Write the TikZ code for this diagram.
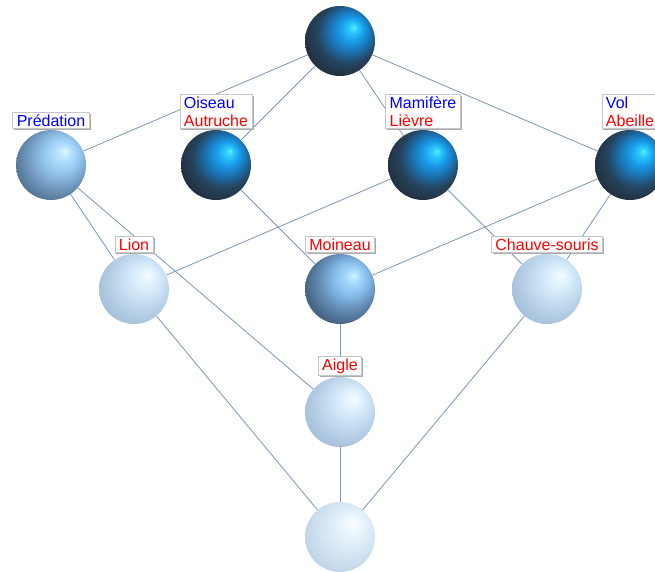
\documentclass[tikz,border=0pt]{standalone}
\usepackage{fontspec}
\setmainfont{Liberation Sans}
\usetikzlibrary{shadows,backgrounds}

\definecolor{edgeblue}{RGB}{122,150,186}
% dark spheres (concepts with an object)
\definecolor{dk0}{HTML}{5AF0FF}
\definecolor{dk1}{HTML}{2CCAFF}
\definecolor{dk2}{HTML}{1898E6}
\definecolor{dk3}{HTML}{1C6AA4}
\definecolor{dk4}{HTML}{25445E}
\definecolor{dk5}{HTML}{223040}
\definecolor{dk6}{HTML}{1A2530}
% light blue spheres
\definecolor{lb0}{HTML}{E0F8FF}
\definecolor{lb1}{HTML}{B4E2FF}
\definecolor{lb2}{HTML}{94C6EE}
\definecolor{lb3}{HTML}{7AA4CC}
\definecolor{lb4}{HTML}{5C7E9E}
\definecolor{lb5}{HTML}{4C6882}
\definecolor{md0}{HTML}{D0F4FF}
\definecolor{md1}{HTML}{A4DAFF}
\definecolor{md2}{HTML}{82B8E6}
\definecolor{md3}{HTML}{6690BA}
\definecolor{md4}{HTML}{4A6A8C}
\definecolor{md5}{HTML}{3A5470}
% very light spheres
\definecolor{vl0}{HTML}{F4FCFF}
\definecolor{vl1}{HTML}{E0F2FD}
\definecolor{vl2}{HTML}{C8E0F4}
\definecolor{vl3}{HTML}{B0CAE2}
\definecolor{vl4}{HTML}{9CB6D2}
\definecolor{bt0}{HTML}{FAFEFF}
\definecolor{bt1}{HTML}{EAF5FC}
\definecolor{bt2}{HTML}{D8E8F5}
\definecolor{bt3}{HTML}{C4D8EA}
\definecolor{bt4}{HTML}{B4CAE0}

\pgfdeclareradialshading{darkball}{\pgfpoint{10bp}{10bp}}{color(0bp)=(dk0); color(3bp)=(dk1); color(9bp)=(dk2); color(16bp)=(dk3); color(22bp)=(dk4); color(30bp)=(dk5); color(50bp)=(dk6)}
\pgfdeclareradialshading{blueball}{\pgfpoint{10bp}{10bp}}{color(0bp)=(lb0); color(5bp)=(lb1); color(13bp)=(lb2); color(20bp)=(lb3); color(28bp)=(lb4); color(36bp)=(lb5); color(50bp)=(lb5)}
\pgfdeclareradialshading{midball}{\pgfpoint{10bp}{10bp}}{color(0bp)=(md0); color(5bp)=(md1); color(13bp)=(md2); color(20bp)=(md3); color(28bp)=(md4); color(36bp)=(md5); color(50bp)=(md5)}
\pgfdeclareradialshading{paleball}{\pgfpoint{10bp}{10bp}}{color(0bp)=(vl0); color(6bp)=(vl1); color(15bp)=(vl2); color(25bp)=(vl3); color(36bp)=(vl4); color(50bp)=(vl4)}
\pgfdeclareradialshading{bottomball}{\pgfpoint{10bp}{10bp}}{color(0bp)=(bt0); color(7bp)=(bt1); color(17bp)=(bt2); color(28bp)=(bt3); color(38bp)=(bt4); color(50bp)=(bt4)}

\tikzset{
  sph/.style={circle, minimum size=70pt, inner sep=0pt, shading=#1},
  lbl/.style={draw=gray!45, fill=white, line width=0.6pt, inner xsep=4pt, inner ysep=2pt,
    align=left, anchor=south, font=\fontsize{16}{18}\selectfont,
    drop shadow={shadow xshift=1.5pt, shadow yshift=-1.5pt, fill=gray!65, opacity=1}},
  link/.style={draw=edgeblue, line width=0.8pt}
}

\begin{document}
\begin{tikzpicture}[x=1pt,y=-1pt]
  \useasboundingbox (0,0) rectangle (655,571);

  % spheres
  \node[sph=darkball] (top) at (340,41) {};
  \node[sph=blueball] (pred) at (51,165) {};
  \node[sph=darkball] (ois) at (216,165) {};
  \node[sph=darkball] (mam) at (423,165) {};
  \node[sph=darkball] (vol) at (630,165) {};
  \node[sph=paleball] (lion) at (134,289) {};
  \node[sph=midball] (moin) at (340,289) {};
  \node[sph=paleball] (chauve) at (547,289) {};
  \node[sph=paleball] (aigle) at (340,412) {};
  \node[sph=bottomball] (bot) at (340,537) {};

  % lines of the lattice
  \begin{scope}[on background layer]
    \foreach \a/\b in {top/pred, top/ois, top/mam, top/vol,
                       pred/lion, pred/aigle, ois/moin, mam/lion, mam/chauve,
                       vol/moin, vol/chauve, moin/aigle,
                       lion/bot, aigle/bot, chauve/bot}
      \draw[link] (\a) -- (\b);
  \end{scope}

  % labels
  \node[lbl] (tpred) at ([yshift=1pt]pred.north) {\color{blue}Prédation};
  \node[lbl] (tois) at ([yshift=1pt]ois.north) {\color{blue}Oiseau\\\color{red}Autruche};
  \node[lbl] (tmam) at ([yshift=1pt]mam.north) {\color{blue}Mamifère\\\color{red}Lièvre};
  \node[lbl] (tvol) at ([yshift=1pt]vol.north) {\color{blue}Vol\\\color{red}Abeille};
  \node[lbl] (tlion) at ([yshift=1pt]lion.north) {\color{red}Lion};
  \node[lbl] (tmoin) at ([yshift=1pt]moin.north) {\color{red}Moineau};
  \node[lbl] (tchauve) at ([yshift=1pt]chauve.north) {\color{red}Chauve-souris};
  \node[lbl] (taigle) at ([yshift=1pt]aigle.north) {\color{red}Aigle};
\end{tikzpicture}
\end{document}
